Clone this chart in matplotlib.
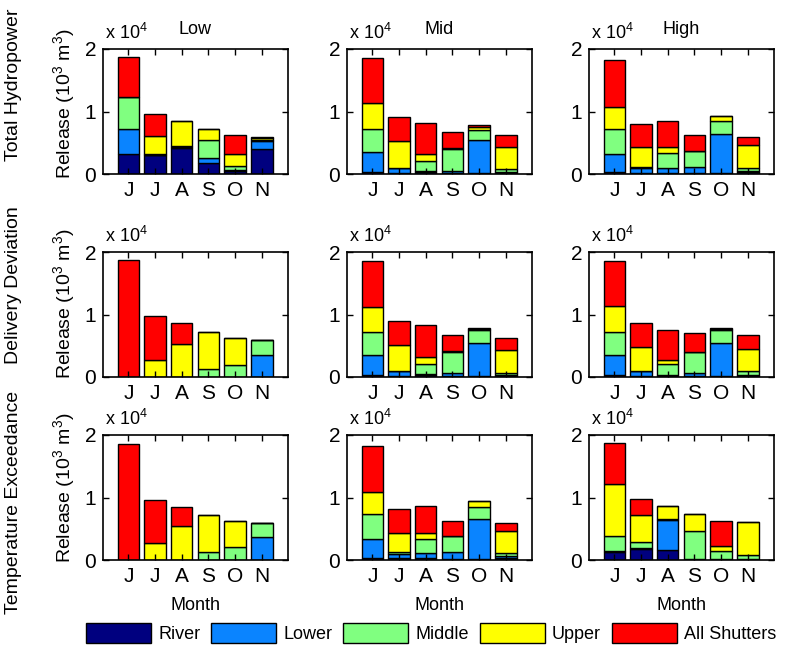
import numpy as np
import matplotlib
matplotlib.use("Agg")
from matplotlib import pyplot as plt

plt.rcParams['font.family'] = ['Liberation Sans', 'DejaVu Sans']
plt.rcParams['mathtext.default'] = 'regular'

months = ['J', 'J', 'A', 'S', 'O', 'N']
series = ['River', 'Lower', 'Middle', 'Upper', 'All Shutters']
colors = ['#00007f', '#0a84ff', '#80ff80', '#ffff00', '#ff0000']
scenarios = ['Low', 'Mid', 'High']
objectives = ['Total Hydropower', 'Delivery Deviation', 'Temperature Exceedance']

# release per outlet (10^3 m^3), rows: River, Lower, Middle, Upper, All Shutters
hydro_low = [[3150, 3050, 4100, 1800, 530, 3960],
             [4020, 50, 150, 770, 170, 1280],
             [5230, 50, 250, 2830, 580, 250],
             [0, 3000, 4060, 1800, 1980, 250],
             [6300, 3480, 0, 0, 2940, 250]]
hydro_mid = [[270, 200, 300, 200, 200, 200],
             [3230, 700, 200, 340, 5200, 200],
             [3760, 100, 1600, 3460, 1700, 350],
             [4040, 4300, 1100, 100, 350, 3500],
             [7200, 3800, 4900, 2700, 350, 1950]]
hydro_high = [[270, 200, 200, 200, 200, 250],
              [2930, 700, 700, 880, 6140, 250],
              [4000, 300, 2400, 2620, 2110, 500],
              [3550, 3050, 950, 50, 900, 3570],
              [7450, 3750, 4300, 2500, 0, 1430]]

delivery_low = [[0, 0, 0, 0, 0, 0],
                [0, 0, 0, 0, 0, 3550],
                [0, 0, 0, 1240, 2000, 2420],
                [0, 2740, 5300, 6020, 4240, 0],
                [18800, 6960, 3300, 0, 0, 0]]
delivery_mid = [[270, 200, 300, 200, 200, 200],
                [3280, 700, 200, 500, 5200, 200],
                [3710, 100, 1650, 3300, 2100, 300],
                [3870, 4100, 1050, 100, 200, 3600],
                [7420, 3800, 5100, 2700, 150, 2000]]
delivery_high = [[270, 200, 200, 200, 200, 200],
                 [3280, 700, 100, 500, 5200, 200],
                 [3710, 100, 1750, 3300, 2100, 570],
                 [4040, 3850, 750, 0, 200, 3530],
                 [7250, 3750, 4800, 3000, 150, 2300]]

temp_low = [[0, 0, 0, 0, 0, 0],
            [0, 0, 0, 0, 0, 3660],
            [0, 0, 0, 1270, 2120, 2280],
            [0, 2760, 5400, 6000, 4080, 0],
            [18600, 6840, 3140, 0, 0, 0]]
temp_mid = [[270, 300, 300, 200, 200, 320],
            [3090, 660, 770, 1130, 6300, 320],
            [3940, 370, 2230, 2570, 2030, 430],
            [3530, 2970, 1000, 0, 870, 3570],
            [7370, 3800, 4340, 2400, 0, 1360]]
temp_high = [[1330, 1810, 1650, 200, 200, 100],
             [170, 90, 4750, 0, 0, 0],
             [2400, 980, 160, 4440, 1190, 750],
             [8260, 4370, 2140, 2720, 900, 5180],
             [6610, 2450, 0, 0, 4010, 0]]

panels = [[hydro_low, hydro_mid, hydro_high],
          [delivery_low, delivery_mid, delivery_high],
          [temp_low, temp_mid, temp_high]]

W, H = 794, 649
fig = plt.figure(figsize=(W / 100, H / 100), dpi=100)

col_left = [103, 347, 589]
row_top = [49, 252, 435]
ax_w, ax_h = 185, 125
# vertical centres (px) of the row names and of the release labels
obj_y = [85, 285, 502]
rel_y = [104, 304, 488]
x = np.arange(1, len(months) + 1)

for r in range(3):
    for c in range(3):
        ax = fig.add_axes([col_left[c] / W, 1 - (row_top[r] + ax_h) / H,
                           ax_w / W, ax_h / H])
        data = np.array(panels[r][c], dtype=float)
        bottom = np.zeros(len(months))
        for k in range(len(series)):
            ax.bar(x, data[k], 0.8, bottom=bottom, color=colors[k],
                   edgecolor='black', linewidth=1.0, label=series[k])
            bottom += data[k]
        ax.set_xlim(0.05, 6.98)
        ax.set_ylim(0, 20000)
        ax.set_xticks(x)
        ax.set_xticklabels(months)
        ax.set_yticks([0, 10000, 20000])
        ax.set_yticklabels(['0', '1', '2'])
        ax.tick_params(direction='in', top=True, right=True, length=4,
                       width=1, labelsize=15, pad=5)
        for s in ax.spines.values():
            s.set_linewidth(1.2)
        ax.text(0.01, 1.08, 'x 10$^4$', transform=ax.transAxes,
                fontsize=13, va='baseline', ha='left')
        if r == 0:
            ax.text(0.5, 1.12, scenarios[c], transform=ax.transAxes,
                    fontsize=13, ha='center', va='baseline')
        if r == 2:
            ax.set_xlabel('Month', fontsize=13, labelpad=8)
    fig.text(14 / W, 1 - obj_y[r] / H, objectives[r], rotation=90,
             fontsize=14, ha='center', va='center')
    fig.text(64 / W, 1 - rel_y[r] / H, 'Release (10$^3$ m$^3$)', rotation=90,
             fontsize=14, ha='center', va='center')

handles, labels = ax.get_legend_handles_labels()
fig.legend(handles, labels, loc='center', bbox_to_anchor=(0.543, 1 - 633 / H),
           ncol=5, frameon=False, fontsize=13, handlelength=3.6,
           handleheight=1.4, handletextpad=0.4, columnspacing=0.6)

plt.savefig('out.png', dpi=100)
plt.close()
